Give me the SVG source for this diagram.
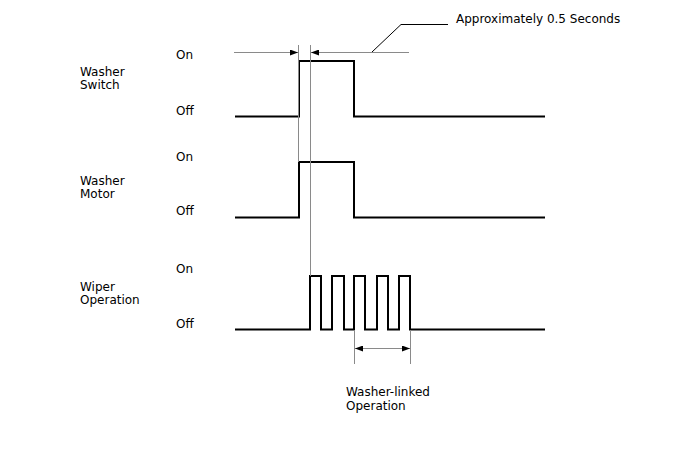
<svg xmlns="http://www.w3.org/2000/svg" width="688" height="463" viewBox="0 0 688 463">
<style>
text{font-family:"DejaVu Sans","Liberation Sans",sans-serif;font-size:12px;fill:#000}
.sig{fill:none;stroke:#000;stroke-width:2;stroke-linejoin:miter}
.thin{fill:none;stroke:#8a8a8a;stroke-width:1}
.lead{fill:none;stroke:#000;stroke-width:1}
</style>
<defs>
<marker id="ah" viewBox="0 0 8 6" refX="8" refY="3" markerWidth="8" markerHeight="6" markerUnits="userSpaceOnUse" orient="auto">
<path d="M0,0 L8,3 L0,6 Z" fill="#000"/>
</marker>
</defs>
<rect width="688" height="463" fill="#fff"/>
<g id="washer-switch">
<text x="80" y="76">Washer</text>
<text x="80" y="89">Switch</text>
<text x="176" y="59">On</text>
<text x="176" y="115">Off</text>
<path class="sig" d="M235,116.5 H299 V61 H354 V116.5 H545"/>
</g>
<g id="washer-motor">
<text x="80" y="185">Washer</text>
<text x="80" y="198">Motor</text>
<text x="176" y="161">On</text>
<text x="176" y="215">Off</text>
<path class="sig" d="M235,217.5 H299 V162 H354 V217.5 H545"/>
</g>
<g id="wiper-operation">
<text x="80" y="291">Wiper</text>
<text x="80" y="304">Operation</text>
<text x="176" y="273">On</text>
<text x="176" y="328">Off</text>
<path class="sig" d="M235,329.5 H310 V276 H321 V329.5 H332 V276 H344 V329.5 H354 V276 H365 V329.5 H377 V276 H388 V329.5 H399 V276 H410 V329.5 H545"/>
</g>
<g id="connectors">
<line class="thin" x1="298.5" y1="45" x2="298.5" y2="162"/>
<line class="thin" x1="310.5" y1="45" x2="310.5" y2="276"/>
<line class="thin" x1="234" y1="52.5" x2="298" y2="52.5" marker-end="url(#ah)"/>
<line class="thin" x1="409" y1="52.5" x2="311" y2="52.5" marker-end="url(#ah)"/>
<polyline class="lead" points="372,52 401,24.5 448,24.5"/>
<line class="thin" x1="354.5" y1="330" x2="354.5" y2="364"/>
<line class="thin" x1="410.5" y1="330" x2="410.5" y2="364"/>
<line class="thin" x1="382" y1="348.5" x2="355" y2="348.5" marker-end="url(#ah)"/>
<line class="thin" x1="382" y1="348.5" x2="410" y2="348.5" marker-end="url(#ah)"/>
</g>
<g id="labels">
<text x="456" y="23">Approximately 0.5 Seconds</text>
<text x="346" y="396">Washer-linked</text>
<text x="346" y="410">Operation</text>
</g>
</svg>
